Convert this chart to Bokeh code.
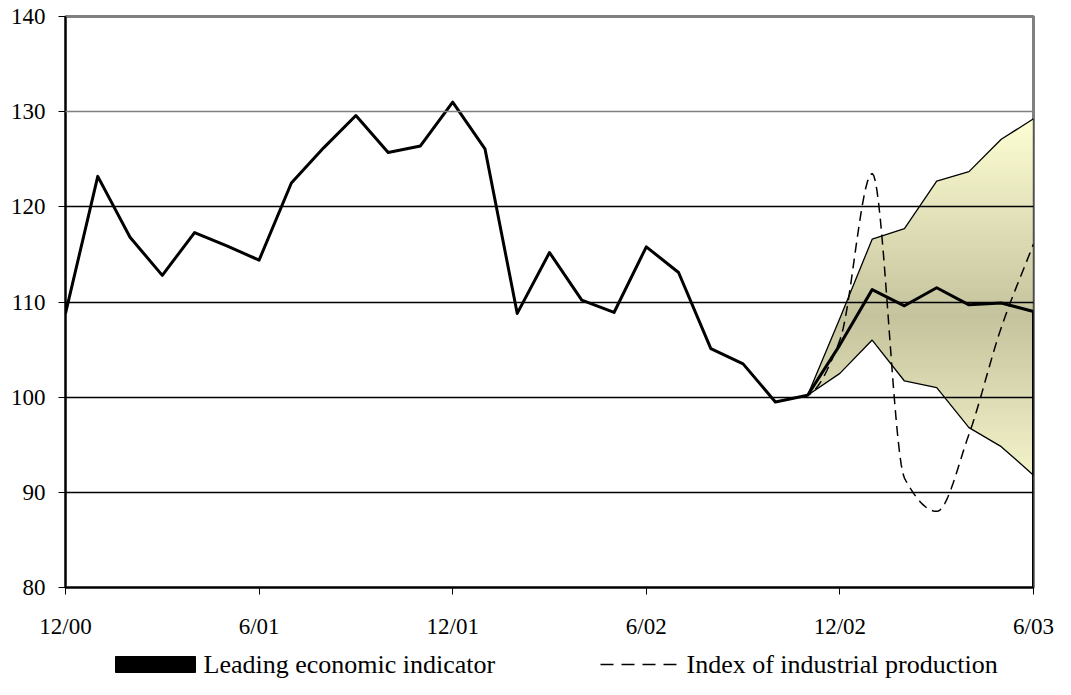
import numpy as np
from bokeh.plotting import figure
from bokeh.layouts import column
from bokeh.models import Range1d, FixedTicker, Grid
from bokeh.core.properties import value
from bokeh.embed import file_html
from bokeh.resources import INLINE

# ---------------- data ----------------
month_index = list(range(31))                      # 12/00 ... 6/03, monthly
tick_positions = [0, 6, 12, 18, 24, 30]
tick_labels = ["12/00", "6/01", "12/01", "6/02", "12/02", "6/03"]
y_ticks = [80, 90, 100, 110, 120, 130, 140]

leading_indicator = [108.8, 123.2, 116.8, 112.8, 117.3, 115.9, 114.4, 122.5, 126.2, 129.6,
                     125.7, 126.4, 131.0, 126.1, 108.8, 115.2, 110.2, 108.9, 115.8, 113.1,
                     105.1, 103.5, 99.5, 100.2, 105.5, 111.3, 109.6, 111.5, 109.7, 109.9, 109.0]

industrial_production = [108.8, 123.2, 116.8, 112.8, 117.3, 115.9, 114.4, 122.5, 126.2, 129.6,
                         125.7, 126.4, 131.0, 126.1, 108.8, 115.2, 110.2, 108.9, 115.8, 113.1,
                         105.1, 103.5, 99.5, 100.2, 106.0, 123.5, 91.5, 88.0, 96.1, 107.3, 116.1]

band_index = [23, 24, 25, 26, 27, 28, 29, 30]
band_upper = [100.2, 108.3, 116.6, 117.7, 122.7, 123.7, 127.1, 129.25]
band_lower = [100.2, 102.5, 106.0, 101.7, 101.0, 96.8, 94.8, 91.8]

legend_labels = ["Leading economic indicator", "Index of industrial production"]

FONT = "Liberation Serif"
W = 1055
H_MAIN = 644
H_LEG = 35
B_LEFT, B_RIGHT = 65, 22

p = figure(width=W, height=H_MAIN, output_backend="svg", toolbar_location=None,
           x_range=Range1d(0, 30), y_range=Range1d(80, 140),
           min_border_left=B_LEFT, min_border_right=B_RIGHT, min_border_top=16, min_border_bottom=57)
p.background_fill_color = "white"
p.border_fill_color = "white"
p.outline_line_color = "#808080"
p.outline_line_width = 3

# ---------------- gradient band ----------------
bx = np.asarray(band_index, float)
xs = np.linspace(bx[0], bx[-1], int((bx[-1] - bx[0]) * 60) + 1)
up = np.interp(xs, bx, band_upper)
lo = np.interp(xs, bx, band_lower)
step = 0.3
edges = np.arange(np.floor(lo.min()), np.ceil(up.max()) + step, step)
dark = np.array([197, 195, 157], float)
light = np.array([252, 252, 210], float)
centre = 108.5
for y0, y1 in zip(edges[:-1], edges[1:]):
    mid = 0.5 * (y0 + y1)
    t = min(abs(mid - centre) / 20.0, 1.0)
    c = dark + (light - dark) * t
    col = "#%02x%02x%02x" % tuple(int(round(v)) for v in c)
    top = y1 + step * 0.5
    a = np.clip(lo, y0, top)
    b = np.clip(up, y0, top)
    p.varea(x=xs, y1=a, y2=b, fill_color=col, fill_alpha=1.0)

p.line(band_index, band_upper, line_color="black", line_width=1.3)
p.line(band_index, band_lower, line_color="black", line_width=1.3)
p.segment(x0=[band_index[-1]], y0=[band_lower[-1]], x1=[band_index[-1]], y1=[band_upper[-1]],
          line_color="black", line_width=1.3)

# ---------------- dashed series: straight where it follows history, smoothed in forecast ----------------
def pchip(x, y, xq):
    x = np.asarray(x, float); y = np.asarray(y, float)
    h = np.diff(x); d = np.diff(y) / h
    m = np.zeros_like(y)
    for k in range(1, len(y) - 1):
        if d[k - 1] * d[k] > 0:
            w1 = 2 * h[k] + h[k - 1]; w2 = h[k] + 2 * h[k - 1]
            m[k] = (w1 + w2) / (w1 / d[k - 1] + w2 / d[k])
    m[0] = d[0]; m[-1] = d[-1]
    idx = np.clip(np.searchsorted(x, xq) - 1, 0, len(x) - 2)
    hh = h[idx]; s = (xq - x[idx]) / hh
    h00 = 2 * s**3 - 3 * s**2 + 1; h10 = s**3 - 2 * s**2 + s
    h01 = -2 * s**3 + 3 * s**2; h11 = s**3 - s**2
    return h00 * y[idx] + h10 * hh * m[idx] + h01 * y[idx + 1] + h11 * hh * m[idx + 1]

split = band_index[0]
hist_x = np.asarray(month_index[:split + 1], float)
hist_y = np.asarray(industrial_production[:split + 1], float)
fc_x = np.linspace(split, month_index[-1], (month_index[-1] - split) * 20 + 1)
fc_y = pchip(month_index, industrial_production, fc_x)
dash_x = np.concatenate([hist_x, fc_x[1:]])
dash_y = np.concatenate([hist_y, fc_y[1:]])
p.line(dash_x, dash_y, line_color="black", line_width=1.5, line_dash="10 6")

# ---------------- leading indicator ----------------
p.line(month_index, leading_indicator, line_color="black", line_width=3, line_join="round")
p.segment(x0=[month_index[-1]], y0=[leading_indicator[-1]], x1=[month_index[-1]], y1=[y_ticks[0]],
          line_color="black", line_width=3)

# ---------------- axes & grid ----------------
p.xgrid.visible = False
p.ygrid.ticker = FixedTicker(ticks=[90, 100, 110, 120])
p.ygrid.grid_line_color = "black"
p.ygrid.grid_line_width = 1.5
p.ygrid.level = "guide"
g130 = Grid(dimension=1, ticker=FixedTicker(ticks=[130]), grid_line_color="#808080",
            grid_line_width=1.5, level="guide")
p.add_layout(g130)

p.xaxis.ticker = FixedTicker(ticks=tick_positions)
p.xaxis.major_label_overrides = {pos: lab for pos, lab in zip(tick_positions, tick_labels)}
p.yaxis.ticker = FixedTicker(ticks=y_ticks)
for ax in (p.xaxis, p.yaxis):
    ax.axis_line_color = "black"
    ax.axis_line_width = 2
    ax.major_tick_line_color = "black"
    ax.major_tick_line_width = 1
    ax.major_tick_out = 7
    ax.major_tick_in = 0
    ax.minor_tick_line_color = None
    ax.major_label_text_font = FONT
    ax.major_label_text_font_size = "23px"
    ax.major_label_text_color = "black"
p.xaxis.major_label_standoff = 19
p.yaxis.major_label_standoff = 13

# ---------------- legend strip (separate small figure, page-pixel coordinates) ----------------
# its frame is aligned with the main frame, so the x range is set to that frame's pixel span
leg = figure(width=W, height=H_LEG, output_backend="svg", toolbar_location=None,
             x_range=Range1d(B_LEFT, W - B_RIGHT), y_range=Range1d(0, H_LEG),
             min_border_left=B_LEFT, min_border_right=B_RIGHT, min_border_top=0, min_border_bottom=0)
leg.axis.visible = False
leg.grid.visible = False
leg.outline_line_color = None
leg.background_fill_color = "white"
leg.border_fill_color = "white"

cy = 15
leg.quad(left=[115], right=[195], bottom=[cy - 8], top=[cy + 8],
         fill_color="black", line_color="black")
leg.segment(x0=[600], y0=[cy], x1=[680], y1=[cy], line_color="black", line_width=1.5,
            line_dash="13 8")
leg.text(x=[203, 686], y=[cy, cy], text=legend_labels, text_font=value(FONT),
         text_font_size="26px", text_baseline="middle", text_align="left", text_color="black")

layout = column(p, leg, spacing=0)
open("out.html", "w").write(file_html(layout, INLINE))
